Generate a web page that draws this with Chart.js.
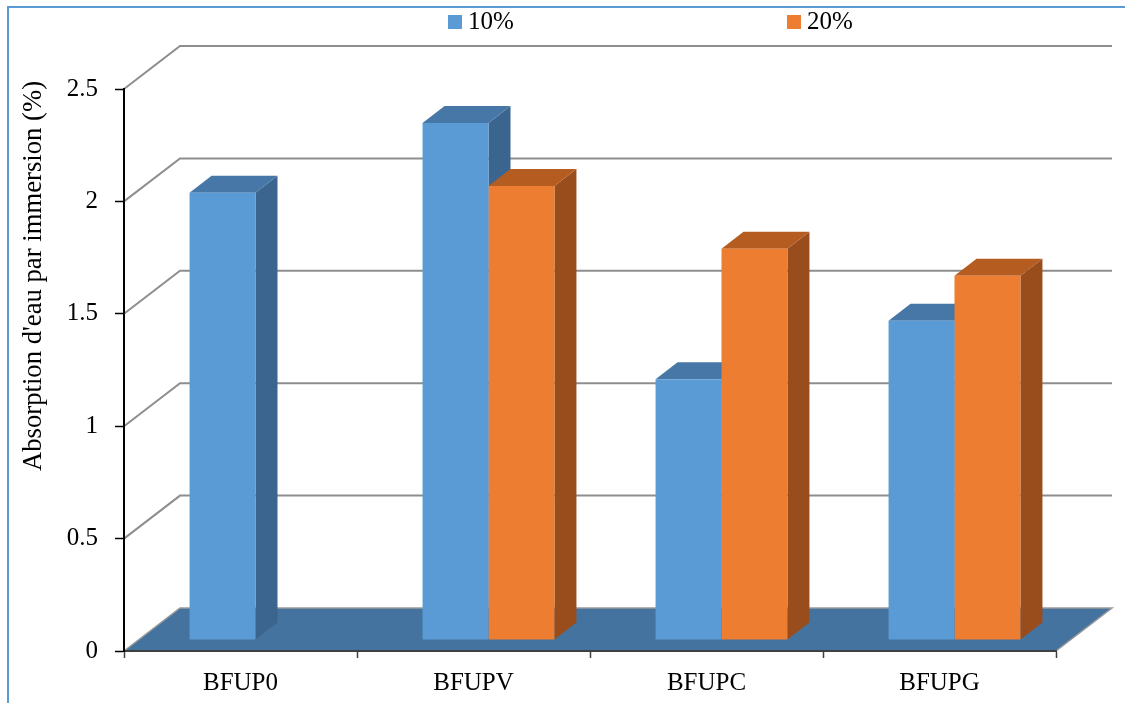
<!DOCTYPE html>
<html>
<head>
<meta charset="utf-8">
<script src="https://cdn.jsdelivr.net/npm/chart.js@4.4.1/dist/chart.umd.min.js"></script>
<style>
  html, body { margin: 0; padding: 0; background: #ffffff; }
  canvas { display: block; }
</style>
</head>
<body>
<canvas id="chart" width="1125" height="703"></canvas>
<script>
// ---- data ----
const categories = ['BFUP0', 'BFUPV', 'BFUPC', 'BFUPG'];
const seriesNames = ['10%', '20%'];
const values10 = [1.99, 2.30, 1.16, 1.42];
const values20 = [null, 2.02, 1.74, 1.62];
const yTicks = [0, 0.5, 1, 1.5, 2, 2.5];
const yTickLabels = ['0', '0.5', '1', '1.5', '2', '2.5'];
const yTitle = "Absorption d'eau par immersion (%)";

// ---- look ----
const FONT = '"Liberation Serif", "Times New Roman", serif';
const WALL_DEPTH = { x: 56, y: -43 };   // oblique depth of floor / back wall
const BAR_SHIFT = { x: 15, y: -11 };    // bars stand a little behind the front edge
const BAR_DEPTH = { x: 22, y: -17 };    // thickness of each bar
const faces = [
  { front: '#5b9bd5', top: '#4677a6', side: '#3b658e' },
  { front: '#ed7d31', top: '#b55d20', side: '#994d1c' }
];

const scene3d = {
  id: 'scene3d',
  beforeDraw(chart) {
    const { ctx, chartArea: a } = chart;
    const y = chart.scales.y;
    ctx.save();
    ctx.fillStyle = '#ffffff';
    ctx.fillRect(0, 0, chart.width, chart.height);

    // outer frame
    ctx.strokeStyle = '#5b9bd5';
    ctx.lineWidth = 2;
    ctx.strokeRect(8, 7, chart.width + 20, chart.height + 20);

    // left-wall diagonals and back-wall grid lines
    ctx.strokeStyle = '#8e8e8e';
    ctx.lineWidth = 2;
    yTicks.forEach(v => {
      if (v === 0) return;
      const py = y.getPixelForValue(v);
      ctx.beginPath();
      ctx.moveTo(a.left, py);
      ctx.lineTo(a.left + WALL_DEPTH.x, py + WALL_DEPTH.y);
      ctx.lineTo(a.right + WALL_DEPTH.x, py + WALL_DEPTH.y);
      ctx.stroke();
    });

    // floor
    const y0 = y.getPixelForValue(0);
    ctx.beginPath();
    ctx.moveTo(a.right, y0);
    ctx.lineTo(a.left, y0);
    ctx.lineTo(a.left + WALL_DEPTH.x, y0 + WALL_DEPTH.y);
    ctx.lineTo(a.right + WALL_DEPTH.x, y0 + WALL_DEPTH.y);
    ctx.closePath();
    ctx.fillStyle = '#44739f';
    ctx.fill();
    ctx.beginPath();
    ctx.moveTo(a.left, y0);
    ctx.lineTo(a.left + WALL_DEPTH.x, y0 + WALL_DEPTH.y);
    ctx.lineTo(a.right + WALL_DEPTH.x, y0 + WALL_DEPTH.y);
    ctx.lineTo(a.right, y0);
    ctx.strokeStyle = '#9a9a9a';
    ctx.lineWidth = 1.5;
    ctx.stroke();
    ctx.restore();
  },
  beforeDatasetsDraw(chart) {
    const ctx = chart.ctx;
    ctx.save();
    ctx.translate(BAR_SHIFT.x, BAR_SHIFT.y);
    // side and top faces, painted left to right so nearer faces overlap
    for (let j = 0; j < categories.length; j++) {
      chart.data.datasets.forEach((ds, i) => {
        if (ds.data[j] == null) return;
        const bar = chart.getDatasetMeta(i).data[j];
        const { x, y, base, width } = bar.getProps(['x', 'y', 'base', 'width'], true);
        const l = x - width / 2, r = x + width / 2;
        const c = faces[i];
        ctx.beginPath();
        ctx.moveTo(r, y);
        ctx.lineTo(r + BAR_DEPTH.x, y + BAR_DEPTH.y);
        ctx.lineTo(r + BAR_DEPTH.x, base + BAR_DEPTH.y);
        ctx.lineTo(r, base);
        ctx.closePath();
        ctx.fillStyle = c.side;
        ctx.fill();
        ctx.beginPath();
        ctx.moveTo(l, y);
        ctx.lineTo(l + BAR_DEPTH.x, y + BAR_DEPTH.y);
        ctx.lineTo(r + BAR_DEPTH.x, y + BAR_DEPTH.y);
        ctx.lineTo(r, y);
        ctx.closePath();
        ctx.fillStyle = c.top;
        ctx.fill();
      });
    }
    // the library now draws the front faces inside the same shifted plane
  },
  afterDatasetsDraw(chart) {
    chart.ctx.restore();
  },
  afterDraw(chart) {
    const ctx = chart.ctx;
    ctx.save();
    // legend
    const legendX = [448, 787];
    ctx.font = '25px ' + FONT;
    ctx.textBaseline = 'middle';
    ctx.textAlign = 'left';
    chart.data.datasets.forEach((ds, i) => {
      ctx.fillStyle = ds.backgroundColor;
      ctx.fillRect(legendX[i], 15, 14, 14);
      ctx.fillStyle = '#000000';
      ctx.fillText(ds.label, legendX[i] + 20, 22);
    });
    // value axis title
    ctx.translate(34, 276);
    ctx.rotate(-Math.PI / 2);
    ctx.textAlign = 'center';
    ctx.font = '26.7px ' + FONT;
    ctx.fillText(yTitle, 0, 0);
    ctx.restore();
  }
};

new Chart(document.getElementById('chart'), {
  type: 'bar',
  data: {
    labels: categories,
    datasets: [
      { label: seriesNames[0], data: values10, backgroundColor: faces[0].front },
      { label: seriesNames[1], data: values20, backgroundColor: faces[1].front }
    ]
  },
  options: {
    responsive: false,
    animation: false,
    devicePixelRatio: 1,
    categoryPercentage: 0.566,
    barPercentage: 1,
    layout: { padding: { top: 89, right: 69, left: 0, bottom: 0 } },
    plugins: { legend: { display: false }, tooltip: { enabled: false } },
    scales: {
      x: {
        afterFit(s) { s.height = 52; },
        grid: { offset: true, drawOnChartArea: false, drawTicks: true, tickLength: 7, tickColor: '#404040', tickWidth: 1.5 },
        border: { display: true, color: '#404040', width: 2 },
        ticks: { color: '#000000', padding: 10, font: { family: FONT, size: 25 } }
      },
      y: {
        min: 0,
        max: 2.5,
        afterFit(s) { s.width = 124; },
        afterBuildTicks(s) { s.ticks = yTicks.map(v => ({ value: v })); },
        grid: { drawOnChartArea: false, drawTicks: true, tickLength: 9, tickColor: '#000000', tickWidth: 1.5 },
        border: { display: true, color: '#000000', width: 2 },
        ticks: {
          color: '#000000',
          padding: 17,
          font: { family: FONT, size: 25 },
          callback: (v, i) => yTickLabels[i]
        }
      }
    }
  },
  plugins: [scene3d]
});
</script>
</body>
</html>
